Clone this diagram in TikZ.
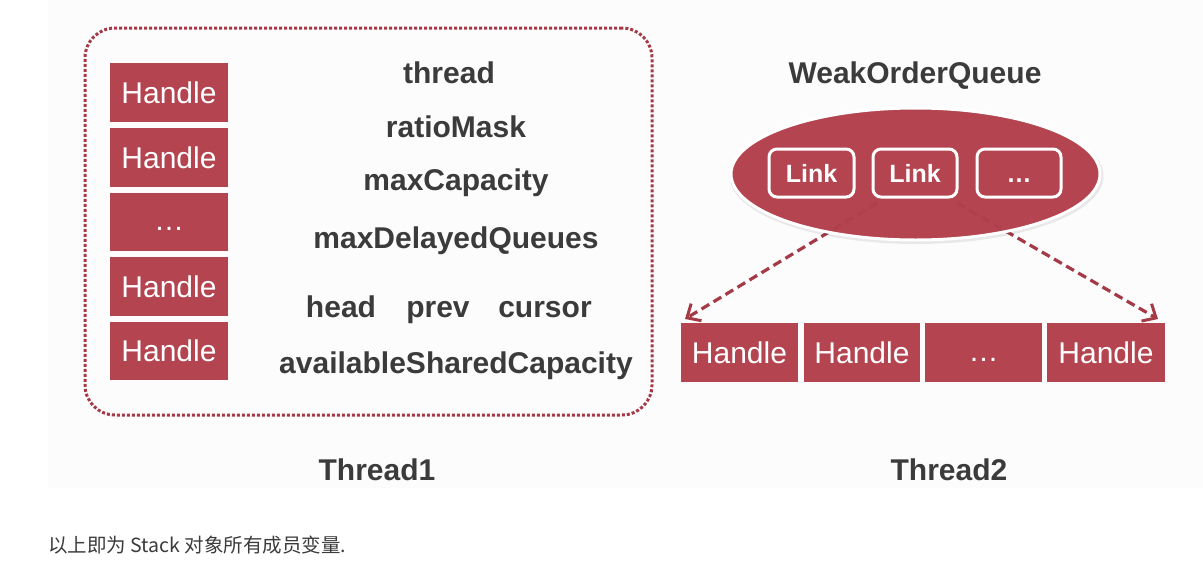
\documentclass[tikz,border=0pt]{standalone}
\usepackage{fontspec}
\setmainfont{Liberation Sans}
\newfontfamily\cjk{Noto Sans CJK SC}
\usetikzlibrary{arrows.meta,shadows,shapes.geometric}
\definecolor{hred}{HTML}{B4444F}
\definecolor{dred}{HTML}{A53A47}
\definecolor{txt}{HTML}{3B3B3B}
\definecolor{panel}{HTML}{FCFCFD}
\tikzset{
  hbox/.style={fill=hred,draw=none,inner sep=0pt,text=white,font=\fontsize{30}{30}\selectfont},
  lbl/.style={text=txt,font=\bfseries\fontsize{30}{30}\selectfont,anchor=base,inner sep=0pt},
  linkbox/.style={fill=hred,draw=white,line width=3pt,rounded corners=8pt,inner sep=0pt,text=white,font=\bfseries\fontsize{25}{25}\selectfont},
  darr/.style={draw=dred,line width=3.2pt,dash pattern=on 9pt off 5pt,-{Straight Barb[length=11pt,width=20pt,line width=3pt]}},
}
\newcommand{\lowdots}[1]{\raisebox{-#1}[0pt][0pt]{\dots}}
\begin{document}
\begin{tikzpicture}[x=1pt,y=-1pt]
\useasboundingbox (0,0) rectangle (1203,587);
\fill[white] (0,0) rectangle (1203,587);
\fill[panel] (48,0) rectangle (1203,488);
% Thread1 frame
\node[draw=dred,line width=3pt,dotted,rounded corners=30pt,minimum width=567pt,minimum height=387pt,inner sep=0pt] (frame) at (368.5,221.5) {};
% left handles
\node[hbox,minimum width=118pt,minimum height=59pt] (h1) at (169,92.5) {Handle};
\node[hbox,minimum width=118pt,minimum height=59pt] (h2) at (169,157.5) {Handle};
\node[hbox,minimum width=118pt,minimum height=58pt] (h3) at (169,222) {\lowdots{8pt}};
\node[hbox,minimum width=118pt,minimum height=59pt] (h4) at (169,286.5) {Handle};
\node[hbox,minimum width=118pt,minimum height=58pt] (h5) at (169,351) {Handle};
% fields
\node[lbl] (f1) at (449,83) {thread};
\node[lbl] (f2) at (456,137) {ratioMask};
\node[lbl] (f3) at (456,190) {maxCapacity};
\node[lbl] (f4) at (456,248) {maxDelayedQueues};
\node[lbl] (f5a) at (341,317) {head};
\node[lbl] (f5b) at (438,317) {prev};
\node[lbl] (f5c) at (545,317) {cursor};
\node[lbl] (f6) at (456,373) {availableSharedCapacity};
\node[lbl] (t1) at (377,480) {Thread1};
% Thread2
\node[lbl] (woq) at (915,83) {WeakOrderQueue};
\node[hbox,minimum width=117pt,minimum height=59pt] (r1) at (739.5,352.5) {Handle};
\node[hbox,minimum width=116pt,minimum height=59pt] (r2) at (862,352.5) {Handle};
\node[hbox,minimum width=117pt,minimum height=59pt] (r3) at (983.5,352.5) {\lowdots{9pt}};
\node[hbox,minimum width=118pt,minimum height=59pt] (r4) at (1106,352.5) {Handle};
\coordinate (s1) at (877,203);
\coordinate (s2) at (957,203);
\coordinate (e1) at (685,319);
\coordinate (e2) at (1158,319);
\draw[darr] (s1) -- (e1);
\draw[darr] (s2) -- (e2);
\fill[black,opacity=0.08] (916.5,176) ellipse [x radius=187pt, y radius=68pt];
\node[ellipse,fill=hred,draw=white,line width=3pt,minimum width=369pt,minimum height=132pt,inner sep=0pt] (ell) at (915.5,174) {};
\begin{scope}
\clip (915.5,174) ellipse [x radius=183pt, y radius=64pt];
\draw[dred!70!hred,line width=3.2pt,dash pattern=on 9pt off 5pt,opacity=0.5] (s1) -- (e1) (s2) -- (e2);
\end{scope}
\node[linkbox,minimum width=85pt,minimum height=48pt] (l1) at (811.5,173) {Link};
\node[linkbox,minimum width=84pt,minimum height=48pt] (l2) at (915,173) {Link};
\node[linkbox,minimum width=84pt,minimum height=48pt] (l3) at (1019,173) {\lowdots{9pt}};
\node[lbl] (t2) at (949,480) {Thread2};
% caption
\node[anchor=base west,inner sep=0pt,text=txt,font=\cjk\fontsize{19.5}{19.5}\selectfont] (cap) at (48,552) {以上即为 Stack 对象所有成员变量.};
\end{tikzpicture}
\end{document}
